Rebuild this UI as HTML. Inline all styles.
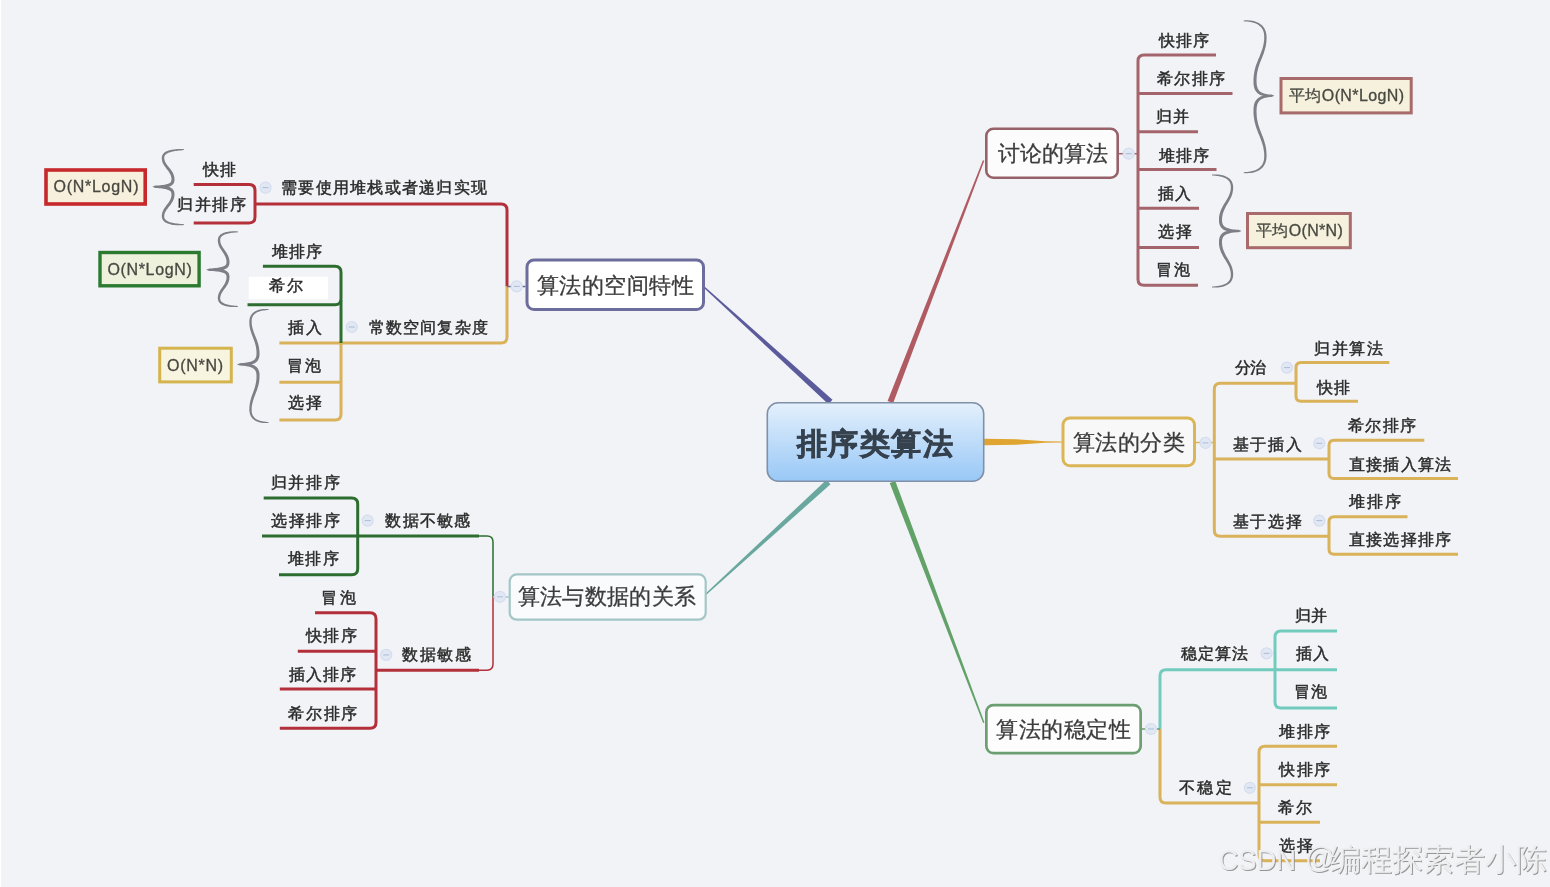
<!DOCTYPE html>
<html><head><meta charset="utf-8"><style>
html,body{margin:0;padding:0;background:#f2f3f7;width:1550px;height:887px;overflow:hidden}
#wrap{position:absolute;left:0;top:0;width:1550px;height:887px;will-change:transform}
svg{position:absolute;left:0;top:0;font-family:"Liberation Sans",sans-serif}
</style></head><body>
<div id="wrap"><svg width="1550" height="887" viewBox="0 0 1550 887">
<rect x="0" y="0" width="1.2" height="887" fill="#ffffff"/>
<polygon points="703.5,287.6 828.5,404.2 832.5,399.8 704.5,286.4" fill="#5b5b9c"/>
<polygon points="982.9,160.2 887.6,400.9 893.2,403.1 984.3,160.8" fill="#b05a62"/>
<polygon points="705.5,595.6 830.5,484.2 826.5,479.8 704.5,594.4" fill="#6aa89f"/>
<polygon points="984.5,722.4 895.3,480.9 889.7,483.1 983.1,723.0" fill="#62a268"/>
<polygon points="984,438.8 1020,439.4 1045,441.2 1062,441.6 1062,442.6 1045,442.8 1020,444.6 984,445.2" fill="#e0a530"/>
<path d="M1216,55 L1144,55 Q1138,55 1138,61 L1138,279.3 Q1138,285.3 1144,285.3 L1198,285.3" stroke="#a4646b" stroke-width="3" fill="none" stroke-linejoin="round" />
<line x1="1138" y1="93.4" x2="1232.5" y2="93.4" stroke="#a4646b" stroke-width="3" stroke-linecap="butt"/>
<line x1="1138" y1="131.7" x2="1198" y2="131.7" stroke="#a4646b" stroke-width="3" stroke-linecap="butt"/>
<line x1="1138" y1="169.5" x2="1216.5" y2="169.5" stroke="#a4646b" stroke-width="3" stroke-linecap="butt"/>
<line x1="1138" y1="208.3" x2="1199" y2="208.3" stroke="#a4646b" stroke-width="3" stroke-linecap="butt"/>
<line x1="1138" y1="247.4" x2="1199" y2="247.4" stroke="#a4646b" stroke-width="3" stroke-linecap="butt"/>
<line x1="1119" y1="153.7" x2="1138" y2="153.7" stroke="#a4646b" stroke-width="1.5" stroke-linecap="butt"/>
<rect x="986.3" y="128.8" width="131.4" height="48.9" rx="7" ry="7" fill="#fdfcfc" stroke="#966169" stroke-width="2.6"/>
<circle cx="1128.7" cy="153.7" r="5.5" fill="#e2e8f3" stroke="#d3ddee" stroke-width="1.2"/>
<line x1="1125.7" y1="153.7" x2="1131.7" y2="153.7" stroke="#aebfdb" stroke-width="1.1"/>
<polygon points="1243.7,21.2 1245.5,21.4 1247.3,21.6 1248.9,21.8 1250.5,22.0 1251.9,22.3 1253.3,22.7 1254.6,23.1 1255.8,23.6 1256.9,24.1 1257.9,24.6 1258.8,25.2 1259.6,25.9 1260.4,26.6 1261.1,27.3 1261.7,28.1 1262.3,28.9 1262.8,29.8 1263.2,30.7 1263.5,31.7 1263.8,32.7 1264.0,33.8 1264.1,34.9 1264.2,36.1 1264.2,37.3 1264.2,39.3 1264.0,41.3 1263.7,43.2 1263.4,45.0 1263.0,46.7 1262.5,48.4 1262.0,50.0 1261.4,51.6 1260.8,53.2 1260.2,54.8 1259.6,56.4 1258.9,58.0 1258.2,59.6 1257.6,61.2 1256.9,62.9 1256.3,64.6 1255.7,66.3 1255.2,68.1 1254.7,70.0 1254.3,72.0 1254.0,74.0 1253.7,76.2 1253.5,78.4 1253.5,80.8 1253.5,82.0 1253.5,83.2 1253.6,84.4 1253.8,85.5 1253.9,86.6 1254.2,87.7 1254.5,88.7 1254.9,89.7 1255.4,90.6 1256.0,91.4 1256.7,92.3 1257.4,93.0 1258.2,93.7 1259.1,94.3 1260.1,94.9 1261.2,95.3 1262.4,95.7 1263.7,96.1 1265.0,96.4 1266.4,96.6 1268.0,96.8 1269.6,96.9 1271.4,96.9 1272.2,95.8 1271.4,94.7 1269.6,94.7 1268.0,94.8 1266.4,95.0 1265.0,95.2 1263.6,95.5 1262.4,95.9 1261.2,96.3 1260.1,96.8 1259.1,97.4 1258.2,98.0 1257.4,98.7 1256.7,99.5 1256.0,100.3 1255.4,101.2 1254.9,102.1 1254.5,103.1 1254.2,104.1 1253.9,105.2 1253.8,106.3 1253.6,107.5 1253.5,108.7 1253.5,109.9 1253.5,111.2 1253.5,113.6 1253.7,115.9 1254.0,118.1 1254.3,120.2 1254.7,122.2 1255.2,124.1 1255.7,126.0 1256.3,127.8 1256.9,129.6 1257.6,131.3 1258.2,132.9 1258.9,134.6 1259.6,136.2 1260.2,137.8 1260.8,139.4 1261.4,141.1 1262.0,142.7 1262.5,144.4 1263.0,146.1 1263.4,147.9 1263.7,149.8 1264.0,151.7 1264.2,153.7 1264.2,155.8 1264.2,157.0 1264.1,158.3 1264.0,159.4 1263.8,160.5 1263.5,161.6 1263.2,162.6 1262.7,163.5 1262.3,164.4 1261.7,165.3 1261.1,166.1 1260.4,166.8 1259.6,167.5 1258.8,168.2 1257.9,168.8 1256.8,169.4 1255.7,169.9 1254.6,170.4 1253.3,170.8 1251.9,171.1 1250.5,171.5 1248.9,171.7 1247.3,171.9 1245.5,172.1 1243.7,172.3 1243.7,173.1 1245.6,173.3 1247.4,173.2 1249.1,173.1 1250.7,172.9 1252.2,172.7 1253.7,172.4 1255.1,172.0 1256.4,171.5 1257.6,171.0 1258.8,170.4 1259.9,169.7 1260.9,169.0 1261.8,168.2 1262.6,167.4 1263.4,166.5 1264.0,165.5 1264.6,164.5 1265.1,163.4 1265.6,162.2 1265.9,161.0 1266.2,159.8 1266.4,158.5 1266.5,157.2 1266.6,155.8 1266.5,153.6 1266.4,151.4 1266.2,149.4 1265.9,147.4 1265.5,145.5 1265.0,143.7 1264.5,141.9 1264.0,140.2 1263.4,138.5 1262.8,136.8 1262.1,135.2 1261.5,133.5 1260.9,131.9 1260.2,130.3 1259.6,128.6 1259.1,126.9 1258.5,125.2 1258.0,123.4 1257.6,121.6 1257.2,119.7 1256.9,117.7 1256.7,115.6 1256.6,113.5 1256.5,111.2 1256.6,110.0 1256.6,108.9 1256.7,107.8 1256.8,106.8 1257.0,105.9 1257.2,105.0 1257.5,104.1 1257.7,103.4 1258.1,102.7 1258.5,102.0 1258.9,101.4 1259.4,100.8 1260.0,100.2 1260.7,99.7 1261.4,99.3 1262.3,98.8 1263.3,98.4 1264.3,98.1 1265.5,97.7 1266.8,97.5 1268.3,97.3 1269.8,97.1 1271.5,97.0 1274.4,95.8 1271.5,94.6 1269.8,94.5 1268.2,94.4 1266.8,94.1 1265.5,93.9 1264.3,93.6 1263.2,93.2 1262.3,92.8 1261.4,92.4 1260.7,91.9 1260.0,91.4 1259.4,90.9 1258.9,90.3 1258.5,89.7 1258.1,89.1 1257.7,88.4 1257.5,87.6 1257.2,86.8 1257.0,86.0 1256.8,85.1 1256.7,84.1 1256.6,83.0 1256.6,82.0 1256.5,80.8 1256.6,78.6 1256.7,76.5 1256.9,74.5 1257.2,72.5 1257.6,70.7 1258.0,68.9 1258.5,67.2 1259.1,65.5 1259.6,63.8 1260.2,62.2 1260.9,60.6 1261.5,59.0 1262.1,57.4 1262.8,55.8 1263.4,54.2 1264.0,52.5 1264.5,50.8 1265.0,49.1 1265.5,47.3 1265.9,45.5 1266.2,43.5 1266.4,41.5 1266.5,39.5 1266.6,37.3 1266.5,35.9 1266.4,34.6 1266.2,33.4 1265.9,32.2 1265.6,31.0 1265.1,29.9 1264.6,28.8 1264.0,27.8 1263.4,26.9 1262.6,26.0 1261.8,25.1 1260.8,24.4 1259.9,23.7 1258.8,23.0 1257.6,22.4 1256.4,21.9 1255.1,21.5 1253.7,21.1 1252.2,20.8 1250.7,20.6 1249.1,20.4 1247.4,20.3 1245.6,20.2 1243.7,20.4" fill="#7d7f86"/>
<polygon points="1212.0,175.4 1213.7,175.6 1215.3,175.8 1216.8,175.9 1218.2,176.1 1219.6,176.4 1220.9,176.6 1222.0,177.0 1223.1,177.3 1224.1,177.7 1225.1,178.1 1225.9,178.6 1226.7,179.0 1227.4,179.6 1228.0,180.1 1228.6,180.7 1229.1,181.3 1229.5,181.9 1229.9,182.6 1230.2,183.3 1230.4,184.0 1230.6,184.8 1230.7,185.6 1230.8,186.4 1230.8,187.3 1230.8,188.8 1230.6,190.2 1230.3,191.6 1229.9,192.9 1229.5,194.1 1229.0,195.4 1228.5,196.6 1227.8,197.7 1227.2,198.9 1226.5,200.1 1225.8,201.2 1225.1,202.4 1224.3,203.6 1223.6,204.8 1222.9,206.1 1222.2,207.4 1221.5,208.7 1220.9,210.1 1220.4,211.5 1219.9,213.0 1219.5,214.6 1219.2,216.3 1219.0,218.0 1219.0,219.8 1219.0,220.8 1219.0,221.7 1219.1,222.6 1219.3,223.5 1219.5,224.3 1219.8,225.2 1220.2,226.0 1220.6,226.8 1221.1,227.5 1221.8,228.2 1222.5,228.9 1223.3,229.4 1224.2,229.9 1225.1,230.4 1226.2,230.8 1227.4,231.1 1228.6,231.4 1230.0,231.6 1231.4,231.8 1233.0,232.0 1234.7,232.1 1236.5,232.1 1238.4,232.1 1239.4,231.0 1238.4,229.9 1236.5,229.9 1234.7,229.9 1233.0,230.0 1231.4,230.2 1230.0,230.4 1228.6,230.6 1227.4,230.9 1226.2,231.2 1225.1,231.6 1224.2,232.1 1223.3,232.6 1222.5,233.1 1221.8,233.8 1221.1,234.5 1220.6,235.2 1220.2,236.0 1219.8,236.8 1219.5,237.7 1219.3,238.5 1219.1,239.4 1219.0,240.3 1219.0,241.2 1219.0,242.2 1219.0,244.0 1219.2,245.7 1219.5,247.4 1219.9,249.0 1220.4,250.5 1220.9,251.9 1221.5,253.3 1222.2,254.6 1222.9,255.9 1223.6,257.2 1224.3,258.4 1225.1,259.6 1225.8,260.8 1226.5,261.9 1227.2,263.1 1227.8,264.3 1228.5,265.4 1229.0,266.6 1229.5,267.9 1229.9,269.1 1230.3,270.4 1230.6,271.8 1230.8,273.2 1230.8,274.7 1230.8,275.6 1230.7,276.4 1230.6,277.2 1230.4,278.0 1230.2,278.7 1229.9,279.4 1229.5,280.1 1229.1,280.7 1228.6,281.3 1228.0,281.9 1227.4,282.4 1226.7,283.0 1225.9,283.4 1225.1,283.9 1224.1,284.3 1223.1,284.7 1222.0,285.0 1220.9,285.4 1219.6,285.6 1218.2,285.9 1216.8,286.1 1215.3,286.2 1213.7,286.4 1212.0,286.6 1212.0,287.4 1213.7,287.6 1215.4,287.6 1216.9,287.5 1218.4,287.4 1219.9,287.2 1221.2,287.0 1222.5,286.7 1223.7,286.4 1224.8,286.0 1225.9,285.6 1226.9,285.1 1227.8,284.6 1228.6,284.0 1229.4,283.4 1230.1,282.7 1230.8,282.0 1231.3,281.2 1231.8,280.4 1232.2,279.5 1232.6,278.6 1232.8,277.7 1233.0,276.7 1233.1,275.7 1233.2,274.7 1233.1,273.0 1233.0,271.4 1232.7,269.9 1232.4,268.4 1231.9,267.0 1231.4,265.6 1230.8,264.3 1230.2,263.0 1229.5,261.8 1228.8,260.6 1228.1,259.3 1227.4,258.1 1226.7,257.0 1226.0,255.8 1225.4,254.6 1224.8,253.3 1224.2,252.1 1223.7,250.8 1223.2,249.5 1222.8,248.2 1222.5,246.8 1222.2,245.3 1222.1,243.8 1222.0,242.2 1222.0,241.4 1222.1,240.6 1222.2,239.8 1222.3,239.2 1222.5,238.5 1222.7,237.9 1222.9,237.4 1223.2,236.9 1223.6,236.4 1224.0,236.0 1224.4,235.6 1225.0,235.2 1225.6,234.8 1226.3,234.4 1227.2,234.0 1228.2,233.7 1229.2,233.4 1230.4,233.1 1231.8,232.8 1233.2,232.6 1234.8,232.4 1236.6,232.3 1238.5,232.2 1241.6,231.0 1238.5,229.8 1236.6,229.7 1234.8,229.6 1233.2,229.4 1231.8,229.2 1230.4,228.9 1229.2,228.6 1228.2,228.3 1227.2,228.0 1226.3,227.6 1225.6,227.2 1225.0,226.8 1224.4,226.4 1224.0,226.0 1223.6,225.6 1223.2,225.1 1222.9,224.6 1222.7,224.1 1222.5,223.5 1222.3,222.8 1222.2,222.2 1222.1,221.4 1222.0,220.6 1222.0,219.8 1222.1,218.2 1222.2,216.7 1222.5,215.2 1222.8,213.8 1223.2,212.5 1223.7,211.2 1224.2,209.9 1224.8,208.7 1225.4,207.4 1226.0,206.2 1226.7,205.0 1227.4,203.9 1228.1,202.7 1228.8,201.4 1229.5,200.2 1230.2,199.0 1230.8,197.7 1231.4,196.4 1231.9,195.0 1232.4,193.6 1232.7,192.1 1233.0,190.6 1233.1,189.0 1233.2,187.3 1233.1,186.3 1233.0,185.3 1232.8,184.3 1232.6,183.4 1232.2,182.5 1231.8,181.6 1231.3,180.8 1230.8,180.0 1230.1,179.3 1229.4,178.6 1228.6,178.0 1227.8,177.4 1226.9,176.9 1225.9,176.4 1224.8,176.0 1223.7,175.6 1222.5,175.3 1221.2,175.0 1219.9,174.8 1218.4,174.6 1216.9,174.5 1215.4,174.4 1213.7,174.4 1212.0,174.6" fill="#7d7f86"/>
<rect x="1281.0" y="78.5" width="130.20000000000005" height="34.400000000000006" rx="0" ry="0" fill="#f5f1dc" stroke="#a86a6a" stroke-width="3"/>
<rect x="1247.5" y="213.5" width="102.79999999999995" height="34.19999999999999" rx="0" ry="0" fill="#f5f1dc" stroke="#a86a6a" stroke-width="3"/>
<path d="M1296,383.2 L1220.3,383.2 Q1214.3,383.2 1214.3,389.2 L1214.3,530.2 Q1214.3,536.2 1220.3,536.2 L1329,536.2" stroke="#dab25a" stroke-width="3" fill="none" stroke-linejoin="round" />
<line x1="1214.3" y1="458.9" x2="1329" y2="458.9" stroke="#dab25a" stroke-width="3" stroke-linecap="butt"/>
<path d="M1389.3,362.4 L1301,362.4 Q1296,362.4 1296,367.4 L1296,396.3 Q1296,401.3 1301,401.3 L1358,401.3" stroke="#dab25a" stroke-width="3" fill="none" stroke-linejoin="round" />
<path d="M1424.3,440.2 L1334,440.2 Q1329,440.2 1329,445.2 L1329,473.6 Q1329,478.6 1334,478.6 L1458,478.6" stroke="#dab25a" stroke-width="3" fill="none" stroke-linejoin="round" />
<path d="M1407.5,516.7 L1334,516.7 Q1329,516.7 1329,521.7 L1329,549.3 Q1329,554.3 1334,554.3 L1458,554.3" stroke="#dab25a" stroke-width="3" fill="none" stroke-linejoin="round" />
<line x1="1196" y1="442.5" x2="1214" y2="442.5" stroke="#dab25a" stroke-width="1.5" stroke-linecap="butt"/>
<rect x="1063.0" y="418.0" width="131.5" height="47.80000000000001" rx="7" ry="7" fill="#f8f8f9" stroke="#dbb556" stroke-width="3"/>
<circle cx="1205.5" cy="442.9" r="5.5" fill="#e2e8f3" stroke="#d3ddee" stroke-width="1.2"/>
<line x1="1202.5" y1="442.9" x2="1208.5" y2="442.9" stroke="#aebfdb" stroke-width="1.1"/>
<circle cx="1287" cy="367.6" r="5.5" fill="#e2e8f3" stroke="#d3ddee" stroke-width="1.2"/>
<line x1="1284" y1="367.6" x2="1290" y2="367.6" stroke="#aebfdb" stroke-width="1.1"/>
<circle cx="1319.3" cy="443.3" r="5.5" fill="#e2e8f3" stroke="#d3ddee" stroke-width="1.2"/>
<line x1="1316.3" y1="443.3" x2="1322.3" y2="443.3" stroke="#aebfdb" stroke-width="1.1"/>
<circle cx="1319.3" cy="520.6" r="5.5" fill="#e2e8f3" stroke="#d3ddee" stroke-width="1.2"/>
<line x1="1316.3" y1="520.6" x2="1322.3" y2="520.6" stroke="#aebfdb" stroke-width="1.1"/>
<path d="M1337,669.8 L1166,669.8 Q1160,669.8 1160,675.8 L1160,729" stroke="#72ccbe" stroke-width="3" fill="none" stroke-linejoin="round" />
<path d="M1160,729 L1160,797 Q1160,803 1166,803 L1259,803" stroke="#dab25a" stroke-width="3" fill="none" stroke-linejoin="round" />
<path d="M1337,631 L1281,631 Q1275,631 1275,637 L1275,702 Q1275,708 1281,708 L1337,708" stroke="#72ccbe" stroke-width="3" fill="none" stroke-linejoin="round" />
<path d="M1337,746.3 L1265,746.3 Q1259,746.3 1259,752.3 L1259,854.8 Q1259,860.8 1265,860.8 L1320,860.8" stroke="#dab25a" stroke-width="3" fill="none" stroke-linejoin="round" />
<line x1="1259" y1="784.7" x2="1337" y2="784.7" stroke="#dab25a" stroke-width="3" stroke-linecap="butt"/>
<line x1="1259" y1="822.2" x2="1320" y2="822.2" stroke="#dab25a" stroke-width="3" stroke-linecap="butt"/>
<line x1="1142" y1="729" x2="1160" y2="729" stroke="#6c9e71" stroke-width="1.5" stroke-linecap="butt"/>
<rect x="986.35" y="705.0500000000001" width="154.3" height="48.09999999999995" rx="7" ry="7" fill="#fcfdfc" stroke="#6c9e71" stroke-width="2.7"/>
<circle cx="1151" cy="729" r="5.5" fill="#e2e8f3" stroke="#d3ddee" stroke-width="1.2"/>
<line x1="1148" y1="729" x2="1154" y2="729" stroke="#aebfdb" stroke-width="1.1"/>
<circle cx="1266.6" cy="653.4" r="5.5" fill="#e2e8f3" stroke="#d3ddee" stroke-width="1.2"/>
<line x1="1263.6" y1="653.4" x2="1269.6" y2="653.4" stroke="#aebfdb" stroke-width="1.1"/>
<circle cx="1249.8" cy="787.8" r="5.5" fill="#e2e8f3" stroke="#d3ddee" stroke-width="1.2"/>
<line x1="1246.8" y1="787.8" x2="1252.8" y2="787.8" stroke="#aebfdb" stroke-width="1.1"/>
<path d="M255,203.9 L501,203.9 Q507,203.9 507,209.9 L507,286.5" stroke="#b3303a" stroke-width="3" fill="none" stroke-linejoin="round" />
<path d="M507,286.5 L507,337 Q507,343 501,343 L279.4,343" stroke="#dab25a" stroke-width="3" fill="none" stroke-linejoin="round" />
<path d="M193.7,184.4 L249,184.4 Q255,184.4 255,190.4 L255,217 Q255,223 249,223 L193.7,223" stroke="#b3303a" stroke-width="3" fill="none" stroke-linejoin="round" />
<path d="M262.9,266.2 L335,266.2 Q341,266.2 341,272.2 L341,298.8 Q341,304.8 335,304.8 L247.5,304.8" stroke="#2d6e30" stroke-width="3" fill="none" stroke-linejoin="round" />
<line x1="341" y1="300" x2="341" y2="343" stroke="#2d6e30" stroke-width="3"/>
<path d="M341,343 L341,414 Q341,420 335,420 L279.4,420" stroke="#dab25a" stroke-width="3" fill="none" stroke-linejoin="round" />
<line x1="279.4" y1="382.2" x2="341" y2="382.2" stroke="#dab25a" stroke-width="3" stroke-linecap="butt"/>
<rect x="248.7" y="276.8" width="79.3" height="22.5" fill="#ffffff"/>
<line x1="507" y1="286.5" x2="525.5" y2="286.5" stroke="#6b6b9b" stroke-width="1.5" stroke-linecap="butt"/>
<rect x="527.0" y="260.0" width="176.5" height="49.5" rx="7" ry="7" fill="#ffffff" stroke="#6d6d9d" stroke-width="3"/>
<rect x="46.0" y="170.0" width="99.2" height="34.00000000000002" rx="0" ry="0" fill="#f6f0dc" stroke="#c6282c" stroke-width="3.6"/>
<rect x="100.0" y="252.5" width="99.10000000000001" height="33.29999999999999" rx="0" ry="0" fill="#eef2dc" stroke="#2b7a2f" stroke-width="3.4"/>
<rect x="159.7" y="348.2" width="71.60000000000002" height="33.69999999999999" rx="0" ry="0" fill="#f7f4e0" stroke="#d4b44e" stroke-width="3"/>
<polygon points="184.0,150.1 182.2,150.3 180.5,150.5 178.9,150.6 177.4,150.8 176.0,150.9 174.6,151.1 173.4,151.4 172.2,151.6 171.1,151.9 170.1,152.2 169.2,152.5 168.4,152.8 167.6,153.2 167.0,153.5 166.4,153.9 165.9,154.3 165.5,154.7 165.1,155.1 164.8,155.5 164.6,156.0 164.4,156.4 164.3,156.9 164.2,157.4 164.2,157.8 164.3,158.8 164.4,159.7 164.6,160.5 164.9,161.3 165.3,162.1 165.7,162.9 166.2,163.7 166.7,164.4 167.3,165.2 167.8,165.9 168.5,166.7 169.1,167.5 169.7,168.3 170.4,169.1 171.0,169.9 171.6,170.8 172.2,171.7 172.7,172.6 173.2,173.6 173.6,174.7 174.0,175.8 174.3,176.9 174.4,178.1 174.5,179.3 174.5,180.1 174.4,180.7 174.3,181.4 174.2,182.1 173.9,182.7 173.6,183.4 173.2,184.0 172.7,184.5 172.2,185.0 171.5,185.5 170.8,185.9 170.1,186.3 169.2,186.7 168.3,187.0 167.3,187.2 166.1,187.4 164.9,187.6 163.6,187.7 162.2,187.8 160.7,187.9 159.1,188.0 157.3,188.0 155.4,187.9 154.5,186.8 155.4,185.7 157.3,185.6 159.1,185.6 160.7,185.7 162.2,185.8 163.6,185.9 164.9,186.0 166.2,186.2 167.3,186.4 168.3,186.7 169.2,187.0 170.1,187.3 170.8,187.7 171.5,188.2 172.2,188.6 172.7,189.2 173.2,189.7 173.6,190.4 173.9,191.0 174.2,191.7 174.3,192.3 174.4,193.0 174.5,193.7 174.5,194.4 174.4,195.7 174.3,196.9 174.0,198.1 173.7,199.2 173.2,200.2 172.7,201.2 172.2,202.2 171.6,203.1 171.0,204.0 170.4,204.9 169.7,205.7 169.1,206.5 168.5,207.3 167.9,208.1 167.3,208.9 166.7,209.6 166.2,210.4 165.7,211.2 165.3,212.0 164.9,212.8 164.6,213.6 164.4,214.5 164.3,215.4 164.2,216.4 164.2,216.9 164.3,217.4 164.4,217.9 164.6,218.3 164.8,218.8 165.1,219.2 165.5,219.6 165.9,220.0 166.4,220.4 167.0,220.8 167.6,221.2 168.4,221.5 169.2,221.9 170.1,222.2 171.1,222.5 172.2,222.8 173.4,223.0 174.6,223.3 176.0,223.5 177.4,223.6 178.9,223.8 180.5,223.9 182.2,224.1 184.0,224.3 184.0,225.1 182.2,225.3 180.5,225.3 178.8,225.3 177.3,225.3 175.8,225.2 174.4,225.0 173.1,224.9 171.8,224.7 170.7,224.4 169.6,224.1 168.5,223.8 167.6,223.5 166.7,223.1 165.9,222.7 165.1,222.2 164.5,221.7 163.9,221.2 163.3,220.6 162.9,220.0 162.5,219.3 162.2,218.6 162.0,217.9 161.8,217.1 161.8,216.3 161.8,215.2 162.0,214.0 162.2,213.0 162.5,211.9 162.9,210.9 163.4,210.0 163.9,209.0 164.5,208.1 165.1,207.3 165.7,206.4 166.3,205.6 166.9,204.8 167.5,204.0 168.1,203.2 168.7,202.4 169.2,201.6 169.7,200.8 170.1,199.9 170.5,199.1 170.9,198.2 171.1,197.3 171.3,196.4 171.5,195.4 171.5,194.4 171.5,193.9 171.4,193.4 171.3,193.0 171.2,192.6 171.1,192.2 170.9,191.9 170.7,191.6 170.5,191.3 170.2,191.0 169.8,190.7 169.3,190.4 168.8,190.2 168.1,189.9 167.4,189.7 166.5,189.4 165.6,189.1 164.5,188.9 163.3,188.7 162.0,188.5 160.5,188.3 158.9,188.2 157.2,188.1 155.4,188.0 152.3,186.8 155.4,185.6 157.2,185.5 158.9,185.4 160.5,185.3 162.0,185.1 163.3,184.9 164.5,184.7 165.6,184.5 166.5,184.2 167.4,184.0 168.1,183.7 168.8,183.5 169.3,183.2 169.8,182.9 170.2,182.7 170.5,182.4 170.7,182.1 170.9,181.8 171.1,181.5 171.2,181.1 171.3,180.8 171.4,180.3 171.5,179.9 171.5,179.4 171.5,178.4 171.3,177.4 171.1,176.5 170.9,175.7 170.5,174.8 170.1,174.0 169.7,173.2 169.2,172.4 168.7,171.6 168.1,170.8 167.5,170.0 166.9,169.2 166.3,168.4 165.7,167.6 165.1,166.8 164.5,165.9 163.9,165.1 163.4,164.2 162.9,163.2 162.5,162.2 162.2,161.2 162.0,160.1 161.8,159.0 161.8,157.9 161.8,157.1 162.0,156.4 162.2,155.6 162.5,154.9 162.9,154.3 163.3,153.7 163.9,153.1 164.5,152.6 165.1,152.1 165.9,151.6 166.7,151.2 167.6,150.9 168.5,150.5 169.6,150.2 170.7,150.0 171.8,149.7 173.1,149.5 174.4,149.4 175.8,149.2 177.3,149.1 178.8,149.1 180.5,149.1 182.2,149.1 184.0,149.3" fill="#7d7f86"/>
<polygon points="238.0,232.2 236.4,232.4 234.9,232.5 233.4,232.7 232.0,232.8 230.8,233.0 229.6,233.2 228.4,233.4 227.4,233.7 226.4,234.0 225.5,234.3 224.7,234.6 223.9,234.9 223.3,235.3 222.7,235.6 222.2,236.0 221.7,236.4 221.3,236.8 221.0,237.3 220.7,237.7 220.5,238.1 220.4,238.6 220.3,239.1 220.2,239.6 220.2,240.1 220.3,241.1 220.4,242.0 220.6,242.9 220.9,243.7 221.2,244.6 221.6,245.4 222.0,246.1 222.5,246.9 223.0,247.7 223.5,248.5 224.1,249.3 224.6,250.1 225.2,250.9 225.8,251.7 226.3,252.6 226.9,253.4 227.4,254.4 227.9,255.3 228.3,256.3 228.7,257.4 229.0,258.5 229.3,259.6 229.4,260.8 229.5,262.1 229.5,262.8 229.4,263.5 229.3,264.2 229.1,264.9 228.9,265.5 228.6,266.2 228.2,266.8 227.7,267.4 227.1,267.9 226.4,268.4 225.7,268.8 224.9,269.2 224.0,269.5 223.0,269.8 222.0,270.1 220.8,270.3 219.5,270.5 218.1,270.7 216.6,270.8 215.0,270.8 213.3,270.9 211.4,270.9 209.4,270.8 208.3,269.7 209.4,268.6 211.4,268.5 213.3,268.5 215.0,268.6 216.6,268.6 218.1,268.7 219.5,268.9 220.8,269.0 221.9,269.2 223.0,269.5 224.0,269.8 224.9,270.2 225.7,270.5 226.4,270.9 227.1,271.4 227.6,271.9 228.1,272.5 228.6,273.1 228.9,273.7 229.1,274.4 229.3,275.0 229.4,275.7 229.5,276.4 229.5,277.1 229.4,278.3 229.3,279.5 229.0,280.6 228.7,281.7 228.3,282.7 227.9,283.7 227.4,284.6 226.9,285.5 226.3,286.3 225.8,287.2 225.2,288.0 224.6,288.8 224.0,289.5 223.5,290.3 223.0,291.0 222.5,291.8 222.0,292.5 221.6,293.3 221.2,294.1 220.9,294.9 220.6,295.7 220.4,296.5 220.3,297.4 220.2,298.3 220.2,298.8 220.3,299.3 220.4,299.8 220.5,300.2 220.7,300.7 221.0,301.1 221.3,301.5 221.7,301.9 222.2,302.3 222.7,302.6 223.3,303.0 223.9,303.3 224.7,303.7 225.5,304.0 226.4,304.3 227.4,304.5 228.4,304.8 229.5,305.0 230.8,305.2 232.0,305.4 233.4,305.5 234.9,305.7 236.4,305.8 238.0,306.0 238.0,306.8 236.4,307.0 234.8,307.0 233.3,307.0 231.9,306.9 230.6,306.9 229.3,306.7 228.1,306.6 227.0,306.4 225.9,306.1 224.9,305.9 224.0,305.6 223.1,305.2 222.3,304.9 221.5,304.5 220.9,304.0 220.2,303.5 219.7,303.0 219.2,302.4 218.8,301.8 218.4,301.2 218.2,300.5 218.0,299.8 217.9,299.1 217.8,298.3 217.8,297.2 218.0,296.1 218.2,295.0 218.5,294.0 218.8,293.1 219.3,292.2 219.7,291.3 220.2,290.4 220.7,289.6 221.3,288.7 221.8,287.9 222.4,287.2 222.9,286.4 223.5,285.6 224.0,284.8 224.5,284.0 224.9,283.2 225.3,282.4 225.6,281.6 225.9,280.8 226.2,279.9 226.4,279.0 226.5,278.0 226.5,277.0 226.5,276.5 226.4,276.1 226.4,275.7 226.3,275.3 226.1,275.0 226.0,274.7 225.7,274.4 225.5,274.1 225.2,273.8 224.8,273.6 224.3,273.3 223.7,273.0 223.0,272.8 222.2,272.5 221.3,272.3 220.2,272.1 219.1,271.8 217.8,271.6 216.4,271.4 214.8,271.3 213.1,271.1 211.3,271.0 209.3,270.9 206.1,269.7 209.3,268.5 211.3,268.4 213.1,268.3 214.8,268.1 216.4,268.0 217.8,267.8 219.1,267.6 220.2,267.3 221.3,267.1 222.2,266.8 223.0,266.6 223.7,266.3 224.3,266.1 224.7,265.8 225.1,265.5 225.5,265.2 225.7,264.9 225.9,264.6 226.1,264.3 226.3,263.9 226.4,263.5 226.4,263.1 226.5,262.6 226.5,262.1 226.5,261.1 226.4,260.1 226.2,259.2 225.9,258.2 225.6,257.4 225.3,256.5 224.9,255.7 224.4,254.9 224.0,254.0 223.5,253.2 222.9,252.4 222.4,251.6 221.8,250.8 221.3,250.0 220.7,249.1 220.2,248.3 219.7,247.4 219.2,246.5 218.8,245.5 218.5,244.5 218.2,243.5 218.0,242.4 217.8,241.3 217.8,240.1 217.9,239.4 218.0,238.6 218.2,237.9 218.4,237.2 218.8,236.6 219.2,235.9 219.7,235.4 220.2,234.8 220.8,234.3 221.5,233.9 222.3,233.4 223.1,233.0 224.0,232.7 224.9,232.4 225.9,232.1 227.0,231.9 228.1,231.7 229.3,231.5 230.6,231.4 231.9,231.3 233.3,231.2 234.8,231.2 236.4,231.2 238.0,231.4" fill="#7d7f86"/>
<polygon points="268.5,309.9 267.0,310.1 265.5,310.2 264.2,310.4 262.9,310.6 261.7,310.8 260.6,311.1 259.5,311.4 258.5,311.8 257.6,312.1 256.8,312.5 256.0,313.0 255.3,313.4 254.7,313.9 254.1,314.5 253.7,315.0 253.2,315.6 252.8,316.3 252.5,316.9 252.2,317.6 252.0,318.3 251.8,319.1 251.7,319.9 251.7,320.7 251.7,321.6 251.7,323.1 251.8,324.5 252.0,325.8 252.3,327.1 252.6,328.4 252.9,329.6 253.3,330.8 253.7,332.0 254.1,333.1 254.6,334.3 255.0,335.4 255.5,336.6 256.0,337.7 256.5,338.9 257.0,340.2 257.4,341.4 257.8,342.7 258.2,344.1 258.6,345.5 258.9,346.9 259.1,348.4 259.3,350.0 259.5,351.7 259.5,353.4 259.5,354.4 259.5,355.3 259.4,356.2 259.2,357.0 259.0,357.9 258.7,358.7 258.3,359.5 257.9,360.3 257.4,361.0 256.7,361.7 256.0,362.3 255.2,362.9 254.3,363.4 253.4,363.8 252.3,364.2 251.1,364.5 249.9,364.8 248.5,365.1 247.1,365.2 245.5,365.4 243.8,365.5 242.0,365.5 240.1,365.5 239.1,364.4 240.1,363.3 242.0,363.3 243.8,363.3 245.5,363.4 247.1,363.6 248.6,363.8 249.9,364.0 251.2,364.3 252.3,364.7 253.4,365.1 254.4,365.6 255.3,366.1 256.1,366.7 256.8,367.3 257.4,368.1 257.9,368.8 258.4,369.6 258.7,370.5 259.0,371.3 259.2,372.2 259.4,373.1 259.5,374.1 259.5,375.0 259.5,376.0 259.5,377.9 259.3,379.6 259.2,381.3 258.9,382.9 258.6,384.4 258.2,385.9 257.8,387.3 257.4,388.7 257.0,390.0 256.5,391.3 256.0,392.5 255.5,393.8 255.1,395.0 254.6,396.2 254.1,397.5 253.7,398.7 253.3,399.9 252.9,401.2 252.6,402.5 252.3,403.8 252.0,405.2 251.8,406.6 251.7,408.1 251.7,409.7 251.7,410.7 251.7,411.5 251.8,412.4 252.0,413.2 252.2,414.0 252.5,414.7 252.8,415.4 253.2,416.1 253.7,416.7 254.2,417.3 254.7,417.9 255.3,418.4 256.0,418.9 256.8,419.4 257.6,419.8 258.5,420.2 259.5,420.5 260.6,420.9 261.7,421.1 262.9,421.4 264.2,421.6 265.5,421.8 267.0,421.9 268.5,422.1 268.5,422.9 266.9,423.1 265.5,423.1 264.0,423.0 262.7,422.9 261.4,422.7 260.2,422.4 259.0,422.2 257.9,421.8 256.9,421.4 255.9,421.0 255.0,420.5 254.2,419.9 253.4,419.3 252.7,418.7 252.1,418.0 251.5,417.2 251.0,416.4 250.6,415.6 250.2,414.7 249.9,413.8 249.7,412.8 249.5,411.8 249.4,410.8 249.3,409.7 249.4,408.0 249.5,406.4 249.6,404.9 249.8,403.4 250.1,401.9 250.4,400.5 250.8,399.2 251.2,397.9 251.6,396.6 252.1,395.3 252.5,394.1 253.0,392.8 253.4,391.6 253.9,390.3 254.3,389.1 254.7,387.8 255.1,386.5 255.4,385.2 255.7,383.8 256.0,382.4 256.2,380.9 256.4,379.4 256.5,377.7 256.5,376.0 256.5,375.2 256.4,374.3 256.3,373.6 256.2,372.8 256.0,372.2 255.8,371.6 255.6,371.0 255.3,370.5 254.9,370.0 254.5,369.5 254.0,369.1 253.5,368.7 252.9,368.2 252.1,367.8 251.3,367.5 250.3,367.1 249.2,366.8 248.0,366.5 246.7,366.3 245.2,366.0 243.6,365.8 241.9,365.7 240.0,365.6 236.9,364.4 240.0,363.2 241.9,363.1 243.7,363.0 245.3,362.8 246.7,362.6 248.1,362.3 249.3,362.0 250.3,361.7 251.3,361.4 252.2,361.0 252.9,360.7 253.5,360.3 254.1,359.9 254.6,359.5 255.0,359.0 255.3,358.6 255.6,358.1 255.8,357.6 256.0,357.0 256.2,356.4 256.3,355.7 256.4,355.0 256.5,354.2 256.5,353.4 256.5,351.8 256.4,350.3 256.2,348.8 256.0,347.4 255.7,346.1 255.4,344.8 255.1,343.5 254.7,342.3 254.3,341.1 253.9,339.9 253.4,338.8 253.0,337.6 252.5,336.4 252.1,335.2 251.6,334.0 251.2,332.8 250.8,331.6 250.4,330.3 250.1,329.0 249.8,327.6 249.6,326.2 249.4,324.7 249.4,323.2 249.3,321.6 249.4,320.6 249.5,319.6 249.7,318.6 249.9,317.7 250.2,316.8 250.6,316.0 251.0,315.2 251.5,314.4 252.1,313.7 252.7,313.1 253.4,312.4 254.2,311.9 255.1,311.3 256.0,310.9 256.9,310.5 257.9,310.1 259.0,309.8 260.2,309.5 261.4,309.3 262.7,309.1 264.0,309.0 265.5,308.9 266.9,308.9 268.5,309.1" fill="#7d7f86"/>
<circle cx="265.5" cy="187.6" r="5.5" fill="#e2e8f3" stroke="#d3ddee" stroke-width="1.2"/>
<line x1="262.5" y1="187.6" x2="268.5" y2="187.6" stroke="#aebfdb" stroke-width="1.1"/>
<circle cx="351.8" cy="327" r="5.5" fill="#e2e8f3" stroke="#d3ddee" stroke-width="1.2"/>
<line x1="348.8" y1="327" x2="354.8" y2="327" stroke="#aebfdb" stroke-width="1.1"/>
<circle cx="516.7" cy="286.4" r="5.5" fill="#e2e8f3" stroke="#d3ddee" stroke-width="1.2"/>
<line x1="513.7" y1="286.4" x2="519.7" y2="286.4" stroke="#aebfdb" stroke-width="1.1"/>
<path d="M262,536 L479,536" stroke="#2d6e30" stroke-width="3" fill="none" stroke-linejoin="round" />
<path d="M479,536 L487,536 Q493,536 493,542 L493,597" stroke="#2d6e30" stroke-width="1.5" fill="none" stroke-linejoin="round" />
<path d="M493,597 L493,664 Q493,670.2 487,670.2 L479,670.2" stroke="#b3303a" stroke-width="1.5" fill="none" stroke-linejoin="round" />
<line x1="376" y1="670.2" x2="479" y2="670.2" stroke="#b3303a" stroke-width="3" stroke-linecap="butt"/>
<path d="M263.7,498 L351.7,498 Q357.7,498 357.7,504 L357.7,568.7 Q357.7,574.7 351.7,574.7 L279,574.7" stroke="#2d6e30" stroke-width="3" fill="none" stroke-linejoin="round" />
<path d="M315,612.8 L370,612.8 Q376,612.8 376,618.8 L376,722.3 Q376,728.3 370,728.3 L279.8,728.3" stroke="#b3303a" stroke-width="3" fill="none" stroke-linejoin="round" />
<line x1="297.8" y1="651.2" x2="376" y2="651.2" stroke="#b3303a" stroke-width="3" stroke-linecap="butt"/>
<line x1="279.8" y1="689.1" x2="376" y2="689.1" stroke="#b3303a" stroke-width="3" stroke-linecap="butt"/>
<line x1="493" y1="597" x2="508.6" y2="597" stroke="#9fc4c4" stroke-width="1.5" stroke-linecap="butt"/>
<rect x="509.70000000000005" y="574.4" width="195.99999999999994" height="45.3" rx="7" ry="7" fill="#f9fbfc" stroke="#a3c6c6" stroke-width="2.2"/>
<circle cx="367.7" cy="520.6" r="5.5" fill="#e2e8f3" stroke="#d3ddee" stroke-width="1.2"/>
<line x1="364.7" y1="520.6" x2="370.7" y2="520.6" stroke="#aebfdb" stroke-width="1.1"/>
<circle cx="386.2" cy="654.9" r="5.5" fill="#e2e8f3" stroke="#d3ddee" stroke-width="1.2"/>
<line x1="383.2" y1="654.9" x2="389.2" y2="654.9" stroke="#aebfdb" stroke-width="1.1"/>
<circle cx="500" cy="596.8" r="5.5" fill="#e2e8f3" stroke="#d3ddee" stroke-width="1.2"/>
<line x1="497" y1="596.8" x2="503" y2="596.8" stroke="#aebfdb" stroke-width="1.1"/>
<defs><linearGradient id="cg" x1="0" y1="0" x2="0" y2="1"><stop offset="0" stop-color="#e4f0fc"/><stop offset="1" stop-color="#98c8f6"/></linearGradient></defs>
<rect x="767.3" y="402.8" width="216.4" height="78.4" rx="11" ry="11" fill="url(#cg)" stroke="#7f90a8" stroke-width="1.6"/>
<text x="796.5" y="453.5" font-size="29.5" font-weight="700" fill="#36414e" letter-spacing="1.5"  stroke="#36414e" stroke-width="0.7">排序类算法</text>
<text x="997.8" y="161.15" font-size="21.5" font-weight="400" fill="#3c3c3c" letter-spacing="0.05"  stroke="#3c3c3c" stroke-width="0.3">讨论的算法</text>
<text x="1072.7" y="450.3" font-size="21.5" font-weight="400" fill="#3c3c3c" letter-spacing="0.57"  stroke="#3c3c3c" stroke-width="0.3">算法的分类</text>
<text x="996.3" y="737.2" font-size="21.5" font-weight="400" fill="#3c3c3c" letter-spacing="0.52"  stroke="#3c3c3c" stroke-width="0.3">算法的稳定性</text>
<text x="536.6" y="293.3" font-size="21.5" font-weight="400" fill="#3c3c3c" letter-spacing="0.57"  stroke="#3c3c3c" stroke-width="0.3">算法的空间特性</text>
<text x="517.7" y="603.95" font-size="21.5" font-weight="400" fill="#3c3c3c" letter-spacing="0.36"  stroke="#3c3c3c" stroke-width="0.3">算法与数据的关系</text>
<text x="1158.8" y="45.7" font-size="16" font-weight="400" fill="#2a2a2a" letter-spacing="0.9"  stroke="#2a2a2a" stroke-width="0.45">快排序</text>
<text x="1156.8" y="83.5" font-size="16" font-weight="400" fill="#2a2a2a" letter-spacing="1.4"  stroke="#2a2a2a" stroke-width="0.45">希尔排序</text>
<text x="1155.9" y="122.1" font-size="16" font-weight="400" fill="#2a2a2a" letter-spacing="1.5"  stroke="#2a2a2a" stroke-width="0.45">归并</text>
<text x="1158.8" y="160.7" font-size="16" font-weight="400" fill="#2a2a2a" letter-spacing="0.9"  stroke="#2a2a2a" stroke-width="0.45">堆排序</text>
<text x="1157.7" y="198.5" font-size="16" font-weight="400" fill="#2a2a2a" letter-spacing="1.3"  stroke="#2a2a2a" stroke-width="0.45">插入</text>
<text x="1157.7" y="236.6" font-size="16" font-weight="400" fill="#2a2a2a" letter-spacing="2.3"  stroke="#2a2a2a" stroke-width="0.45">选择</text>
<text x="1155.7" y="275.1" font-size="16" font-weight="400" fill="#2a2a2a" letter-spacing="2.3"  stroke="#2a2a2a" stroke-width="0.45">冒泡</text>
<text x="1289" y="100.8" font-size="16" font-weight="400" fill="#484842" letter-spacing="0.4"  stroke="#484842" stroke-width="0.3">平均O(N*LogN)</text>
<text x="1256" y="236.0" font-size="16" font-weight="400" fill="#484842" letter-spacing="0.34"  stroke="#484842" stroke-width="0.3">平均O(N*N)</text>
<text x="1235" y="373.0" font-size="16" font-weight="400" fill="#2a2a2a" letter-spacing="-1.0"  stroke="#2a2a2a" stroke-width="0.45">分治</text>
<text x="1314.4" y="354.35" font-size="16" font-weight="400" fill="#2a2a2a" letter-spacing="1.37"  stroke="#2a2a2a" stroke-width="0.45">归并算法</text>
<text x="1316.7" y="392.55" font-size="16" font-weight="400" fill="#2a2a2a" letter-spacing="1.3"  stroke="#2a2a2a" stroke-width="0.45">快排</text>
<text x="1232.7" y="450.25" font-size="16" font-weight="400" fill="#2a2a2a" letter-spacing="1.77"  stroke="#2a2a2a" stroke-width="0.45">基于插入</text>
<text x="1348" y="430.5" font-size="16" font-weight="400" fill="#2a2a2a" letter-spacing="1.33"  stroke="#2a2a2a" stroke-width="0.45">希尔排序</text>
<text x="1349" y="469.5" font-size="16" font-weight="400" fill="#2a2a2a" letter-spacing="1.2"  stroke="#2a2a2a" stroke-width="0.45">直接插入算法</text>
<text x="1232.7" y="526.7" font-size="16" font-weight="400" fill="#2a2a2a" letter-spacing="1.77"  stroke="#2a2a2a" stroke-width="0.45">基于选择</text>
<text x="1349" y="507.35" font-size="16" font-weight="400" fill="#2a2a2a" letter-spacing="1.85"  stroke="#2a2a2a" stroke-width="0.45">堆排序</text>
<text x="1349" y="545.15" font-size="16" font-weight="400" fill="#2a2a2a" letter-spacing="1.2"  stroke="#2a2a2a" stroke-width="0.45">直接选择排序</text>
<text x="1180.7" y="659.0" font-size="16" font-weight="400" fill="#2a2a2a" letter-spacing="1.17"  stroke="#2a2a2a" stroke-width="0.45">稳定算法</text>
<text x="1294.6" y="620.85" font-size="16" font-weight="400" fill="#2a2a2a" letter-spacing="0.4"  stroke="#2a2a2a" stroke-width="0.45">归并</text>
<text x="1295.6" y="659.0" font-size="16" font-weight="400" fill="#2a2a2a" letter-spacing="1.4"  stroke="#2a2a2a" stroke-width="0.45">插入</text>
<text x="1293.6" y="697.15" font-size="16" font-weight="400" fill="#2a2a2a" letter-spacing="1.4"  stroke="#2a2a2a" stroke-width="0.45">冒泡</text>
<text x="1178.7" y="793.45" font-size="16" font-weight="400" fill="#2a2a2a" letter-spacing="2.8"  stroke="#2a2a2a" stroke-width="0.45">不稳定</text>
<text x="1279" y="736.6" font-size="16" font-weight="400" fill="#2a2a2a" letter-spacing="1.5"  stroke="#2a2a2a" stroke-width="0.45">堆排序</text>
<text x="1279" y="774.95" font-size="16" font-weight="400" fill="#2a2a2a" letter-spacing="1.5"  stroke="#2a2a2a" stroke-width="0.45">快排序</text>
<text x="1278" y="813.25" font-size="16" font-weight="400" fill="#2a2a2a" letter-spacing="2.0"  stroke="#2a2a2a" stroke-width="0.45">希尔</text>
<text x="1279" y="851.0" font-size="16" font-weight="400" fill="#2a2a2a" letter-spacing="2.0"  stroke="#2a2a2a" stroke-width="0.45">选择</text>
<text x="203.4" y="174.55" font-size="16" font-weight="400" fill="#2a2a2a" letter-spacing="0.4"  stroke="#2a2a2a" stroke-width="0.45">快排</text>
<text x="177.4" y="210.05" font-size="16" font-weight="400" fill="#2a2a2a" letter-spacing="1.37"  stroke="#2a2a2a" stroke-width="0.45">归并排序</text>
<text x="281.2" y="193.3" font-size="16" font-weight="400" fill="#2a2a2a" letter-spacing="1.24"  stroke="#2a2a2a" stroke-width="0.45">需要使用堆栈或者递归实现</text>
<text x="272" y="257.0" font-size="16" font-weight="400" fill="#2a2a2a" letter-spacing="1.0"  stroke="#2a2a2a" stroke-width="0.45">堆排序</text>
<text x="269" y="291.25" font-size="16" font-weight="400" fill="#2a2a2a" letter-spacing="2.0"  stroke="#2a2a2a" stroke-width="0.45">希尔</text>
<text x="287.7" y="332.5" font-size="16" font-weight="400" fill="#2a2a2a" letter-spacing="2.3"  stroke="#2a2a2a" stroke-width="0.45">插入</text>
<text x="368.9" y="332.6" font-size="16" font-weight="400" fill="#2a2a2a" letter-spacing="1.13"  stroke="#2a2a2a" stroke-width="0.45">常数空间复杂度</text>
<text x="287" y="370.5" font-size="16" font-weight="400" fill="#2a2a2a" letter-spacing="2.0"  stroke="#2a2a2a" stroke-width="0.45">冒泡</text>
<text x="287.7" y="408.4" font-size="16" font-weight="400" fill="#2a2a2a" letter-spacing="2.3"  stroke="#2a2a2a" stroke-width="0.45">选择</text>
<text x="53.5" y="192.4" font-size="16" font-weight="400" fill="#484842" letter-spacing="0.73"  stroke="#484842" stroke-width="0.3">O(N*LogN)</text>
<text x="107.5" y="274.8" font-size="16" font-weight="400" fill="#484842" letter-spacing="0.64"  stroke="#484842" stroke-width="0.3">O(N*LogN)</text>
<text x="167" y="371.35" font-size="16" font-weight="400" fill="#484842" letter-spacing="0.72"  stroke="#484842" stroke-width="0.3">O(N*N)</text>
<text x="270.8" y="488.25" font-size="16" font-weight="400" fill="#2a2a2a" letter-spacing="1.63"  stroke="#2a2a2a" stroke-width="0.45">归并排序</text>
<text x="271" y="526.15" font-size="16" font-weight="400" fill="#2a2a2a" letter-spacing="1.57"  stroke="#2a2a2a" stroke-width="0.45">选择排序</text>
<text x="287.9" y="564.45" font-size="16" font-weight="400" fill="#2a2a2a" letter-spacing="1.5"  stroke="#2a2a2a" stroke-width="0.45">堆排序</text>
<text x="385.3" y="526.15" font-size="16" font-weight="400" fill="#2a2a2a" letter-spacing="1.22"  stroke="#2a2a2a" stroke-width="0.45">数据不敏感</text>
<text x="321" y="603.1" font-size="16" font-weight="400" fill="#2a2a2a" letter-spacing="2.5"  stroke="#2a2a2a" stroke-width="0.45">冒泡</text>
<text x="306" y="641.4" font-size="16" font-weight="400" fill="#2a2a2a" letter-spacing="1.25"  stroke="#2a2a2a" stroke-width="0.45">快排序</text>
<text x="288.8" y="679.75" font-size="16" font-weight="400" fill="#2a2a2a" letter-spacing="1.23"  stroke="#2a2a2a" stroke-width="0.45">插入排序</text>
<text x="287.8" y="718.55" font-size="16" font-weight="400" fill="#2a2a2a" letter-spacing="1.87"  stroke="#2a2a2a" stroke-width="0.45">希尔排序</text>
<text x="402.3" y="660.3" font-size="16" font-weight="400" fill="#2a2a2a" letter-spacing="1.57"  stroke="#2a2a2a" stroke-width="0.45">数据敏感</text>
<defs><filter id="emb" x="-5%" y="-20%" width="110%" height="140%"><feDropShadow dx="1" dy="1" stdDeviation="0.6" flood-color="#8a8a8a" flood-opacity="0.9"/></filter></defs>
<g filter="url(#emb)" fill="#eeeef0">
<text x="1218.5" y="869.5" font-size="29.5" textLength="77.5" lengthAdjust="spacingAndGlyphs">CSDN</text>
<text x="1305" y="868" font-size="29">@</text>
<text x="1330" y="869.5" font-size="30.5" letter-spacing="0">编程探索者小陈</text>
</g>
</svg></div></body></html>
